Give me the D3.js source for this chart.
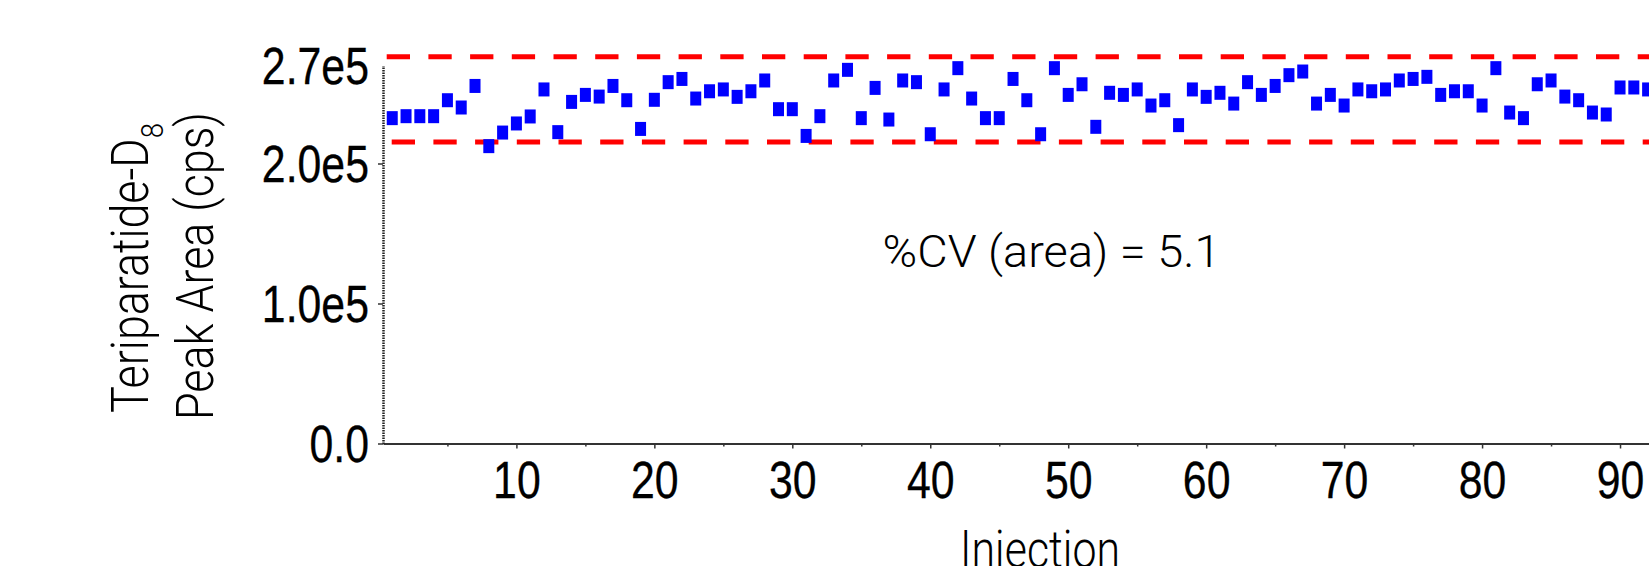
<!DOCTYPE html>
<html lang="en">

<head>
  <meta charset="UTF-8">
  <title>Teriparatide-D8 peak area</title>
  <script src="https://d3js.org/d3.v7.min.js"></script>
  <style>
    body {
      margin: 0;
      background: #fff;
    }

    svg {
      display: block;
    }
  </style>
</head>

<body>
  <svg width="1649" height="566"></svg>
  <script>
    // peak area (cps) for each injection
    const injections = d3.range(1, 93)
    const peakArea = [
      232400, 233800, 233800, 233800, 245200, 240000, 255400, 212400, 222100, 228600,
      233600, 252900, 222400, 244000, 249000, 247800, 255400, 245200, 224700, 245500,
      258100, 260400, 246400, 251600, 252900, 247600, 251600, 259300, 238800, 238800,
      219700, 233800, 259300, 266900, 232400, 254000, 231400, 259300, 258100, 220900,
      252900, 268100, 246400, 232400, 232400, 260400, 245200, 220900, 268100, 249000,
      256600, 226200, 250500, 249000, 252900, 241400, 245200, 227400, 252900, 247600,
      250500, 242800, 258100, 249000, 255400, 263100, 265700, 242800, 249000, 241400,
      252900, 251600, 252900, 259300, 260400, 261900, 249000, 251600, 251600, 241400,
      268100, 236400, 232400, 256600, 259300, 247800, 245200, 236400, 235000, 254300,
      254300, 252900
    ]
    const limits = [276300, 215300]
    const yTicks = [0, 100000, 200000, 270000]
    const xTicks = d3.range(5, 95, 5)
    const cvText = "%CV (area) = 5.1"

    const svg = d3.select("svg")
    const x = d3.scaleLinear().domain([0.33, 92.1]).range([383, 1649])
    const y = d3.scaleLinear().domain([0, 270000]).range([443.5, 65.5])

    // squeeze a text element to a given width along its own direction
    function fit(sel, w) {
      sel.each(function () {
        const bw = this.getBBox().width
        const t = d3.select(this).attr("transform") || ""
        d3.select(this).attr("transform", t + ` scale(${w / bw},1)`)
      })
    }

    // x axis
    const gx = svg.append("g")
      .attr("transform", `translate(0,${y(0)})`)
      .call(d3.axisBottom(x).tickValues(xTicks).tickSizeOuter(0)
        .tickFormat(d => d % 10 === 0 ? d : ""))
    gx.select(".domain").attr("stroke", "#333").attr("stroke-width", 2)
    gx.selectAll(".tick line")
      .attr("stroke", "#333").attr("stroke-width", 1.5)
      .attr("y2", d => d % 10 === 0 ? 5 : 3)
    gx.selectAll(".tick text")
      .attr("y", 0).attr("dy", 0)
      .attr("font-family", "'Liberation Sans', Arial, sans-serif")
      .attr("font-size", 51).attr("fill", "#000")
      .attr("stroke", "#000").attr("stroke-width", 0.3)
      .attr("transform", "translate(0,54) scale(0.84,1)")

    // y axis
    const gy = svg.append("g")
      .attr("transform", `translate(${x(0.33)},0)`)
      .call(d3.axisLeft(y).tickValues(yTicks).tickSize(5).tickSizeOuter(0)
        .tickFormat(d => d === 0 ? "0.0" : (d / 1e5).toFixed(1) + "e5"))
    gy.select(".domain").attr("stroke", "#222").attr("stroke-width", 2.5)
      .attr("stroke-dasharray", "1.5,1")
    gy.selectAll(".tick line").attr("stroke", "#333").attr("stroke-width", 1.5)
      .attr("opacity", d => d === 270000 ? 0 : 1)
    gy.selectAll(".tick text")
      .attr("x", 0).attr("dy", "0.36em")
      .attr("font-family", "'Liberation Sans', Arial, sans-serif")
      .attr("font-size", 51).attr("fill", "#000")
      .attr("stroke", "#000").attr("stroke-width", 0.3)
      .attr("text-anchor", "end")
      .attr("transform", "translate(-14,0) scale(0.84,1)")

    // acceptance limits
    svg.append("g")
      .selectAll("line")
      .data(limits)
      .join("line")
      .attr("x1", (d, i) => x(0.33) + (i === 0 ? 3.7 : 8.7))
      .attr("x2", 1649)
      .attr("y1", d => y(d))
      .attr("y2", d => y(d))
      .attr("stroke", "#ff0000")
      .attr("stroke-width", 5)
      .attr("stroke-dasharray", "23.3,18.4")

    // points
    svg.append("g")
      .attr("fill", "#0000ff")
      .selectAll("rect")
      .data(peakArea)
      .join("rect")
      .attr("x", (d, i) => x(injections[i]) - 5.5)
      .attr("y", d => y(d) - 7)
      .attr("width", 11)
      .attr("height", 14)

    // titles
    const title = svg.append("g")
      .attr("font-family", "Roboto, 'Liberation Sans', sans-serif")
      .attr("font-weight", 300)
      .attr("fill", "#000")

    const t1 = title.append("text")
      .attr("transform", "translate(148.3,268) rotate(-90)")
      .attr("text-anchor", "middle")
      .attr("font-size", 52)
    t1.append("tspan").text("Teriparatide-D")
    t1.append("tspan").text("8").attr("font-size", 32).attr("dy", 15)
    fit(t1, 290)

    const t2 = title.append("text")
      .attr("transform", "translate(213.3,266) rotate(-90)")
      .attr("text-anchor", "middle")
      .attr("font-size", 52)
      .text("Peak Area (cps)")
    fit(t2, 308)

    const t3 = title.append("text")
      .attr("transform", "translate(1040,566.5)")
      .attr("text-anchor", "middle")
      .attr("font-size", 52)
      .text("Injection")
    fit(t3, 160)

    const t4 = title.append("text")
      .attr("transform", "translate(1051.5,266.7)")
      .attr("text-anchor", "middle")
      .attr("font-size", 45)
      .text(cvText)
    fit(t4, 338)
  </script>
</body>

</html>
